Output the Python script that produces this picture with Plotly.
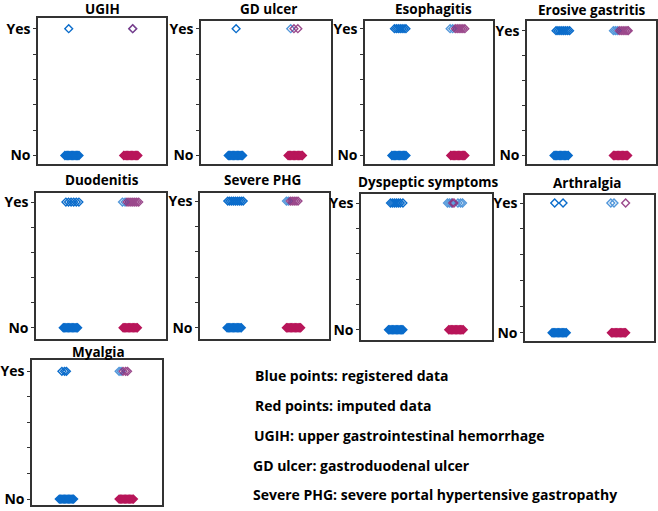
import plotly.graph_objects as go

# ---------------- data ----------------
panel_titles = ["UGIH", "GD ulcer", "Esophagitis", "Erosive gastritis",
                "Duodenitis", "Severe PHG", "Dyspeptic symptoms", "Arthralgia", "Myalgia"]
y_ticktext = ["No", "", "", "", "", "Yes"]
y_tickvals = [0, 0.2, 0.4, 0.6, 0.8, 1]

# x positions (group index + jitter); group 0 = registered, 1 = imputed
reg_yes = [
    [-0.02],
    [0.04],
    [-0.04, -0.01, 0.02, 0.05, 0.08, 0.11, 0.14],
    [-0.05, -0.02, 0.01, 0.04, 0.07, 0.1, 0.13, 0.16],
    [-0.04, 0.0, 0.04, 0.08, 0.12, 0.16],
    [-0.07, -0.04, -0.01, 0.02, 0.05, 0.08, 0.11, 0.14, 0.17],
    [-0.05, -0.02, 0.01, 0.04, 0.07, 0.1, 0.14],
    [-0.04, 0.09],
    [-0.04, 0.0, 0.03],
]
imp_yes_blue = [
    [-0.02],
    [-0.12],
    [-0.17, -0.13],
    [-0.16, -0.13, -0.1],
    [-0.17, -0.13],
    [-0.16, -0.13],
    [-0.18, -0.15, -0.12, -0.02, 0.02, 0.05],
    [-0.17, -0.12],
    [-0.16, -0.13],
]
imp_yes_red = [
    [-0.02],
    [-0.07, -0.01],
    [-0.09, -0.06, -0.03, 0.0, 0.03, 0.06],
    [-0.07, -0.04, -0.01, 0.02, 0.05, 0.07],
    [-0.1, -0.07, -0.04, -0.01, 0.02, 0.05, 0.08],
    [-0.1, -0.07, -0.04, -0.01, 0.02],
    [-0.1, -0.08],
    [0.06],
    [-0.1, -0.06, -0.03],
]
reg_no = [-0.08, -0.06, -0.04, -0.02, 0.0, 0.02, 0.04, 0.06, 0.08, 0.1, 0.12, 0.14]
imp_no = [-0.16, -0.14, -0.12, -0.1, -0.08, -0.06, -0.04, -0.02, 0.0, 0.02, 0.04, 0.06]

notes = ["Blue points: registered data",
         "Red points: imputed data",
         "UGIH: upper gastrointestinal hemorrhage",
         "GD ulcer: gastroduodenal ulcer",
         "Severe PHG: severe portal hypertensive gastropathy"]

# ---------------- layout (pixel geometry) ----------------
W, H = 658, 511
# left, right, top, bottom, yes_y, no_y, title_x, title_y
boxes = [
    (38, 166, 16, 164, 27, 155, 102, 7),
    (201, 331, 19, 164, 27, 155, 268, 7),
    (365, 493, 19, 164, 27, 155, 433, 7),
    (527, 656, 19, 164, 29, 155, 592, 8),
    (36, 166, 193, 340, 202, 329, 102, 180),
    (200, 329, 193, 340, 201, 329, 262, 180),
    (361, 492, 194, 341, 203, 331, 428, 182),
    (525, 654, 195, 342, 203, 334, 587, 183),
    (32, 162, 362, 508, 373, 502, 98, 353),
]
note_pos = [(253, 377), (253, 407), (252, 438), (251, 468), (251, 497)]

BLUE = "#0a6ccb"
RED = "#b8165a"
PURPLE = "#8a2a78"
FONT = "Open Sans"

fig = go.Figure()
layout = dict(width=W, height=H, margin=dict(l=0, r=0, t=0, b=0),
              paper_bgcolor="white", plot_bgcolor="white", showlegend=False)
annotations = []

for i, (l, r, t, b, yy, ny, tx, ty) in enumerate(boxes):
    k = "" if i == 0 else str(i + 1)
    xa, ya = "x" + k, "y" + k
    unit = ny - yy
    ylo = -(b - ny) / unit
    yhi = 1 + (yy - t) / unit

    def add(xs, yv, color, op, sym, size, lw):
        fig.add_trace(go.Scatter(x=xs, y=[yv] * len(xs), mode="markers", xaxis=xa, yaxis=ya,
                                 opacity=op,
                                 marker=dict(symbol=sym, size=size, color=color,
                                             line=dict(color=color, width=lw)),
                                 hoverinfo="skip"))

    add(reg_no, 0, BLUE, 1, "diamond", 6, 1.5)
    add([1 + v for v in imp_no], 0, RED, 1, "diamond", 6, 1.5)
    add(reg_yes[i], 1, BLUE, 1, "diamond-open", 6, 1.4)
    add([1 + v for v in imp_yes_blue[i]], 1, BLUE, 0.7, "diamond-open", 6, 1.4)
    add([1 + v for v in imp_yes_red[i]], 1, PURPLE, 0.85, "diamond-open", 6, 1.4)

    layout["xaxis" + k] = dict(domain=[l / W, r / W], range=[-0.5, 1.5], anchor=ya,
                               showgrid=False, zeroline=False, showticklabels=False,
                               showline=True, mirror=True, linecolor="#333", linewidth=1.5,
                               ticks="", fixedrange=True)
    layout["yaxis" + k] = dict(domain=[1 - b / H, 1 - t / H], range=[ylo, yhi], anchor=xa,
                               tickvals=y_tickvals, ticktext=y_ticktext,
                               tickfont=dict(family=FONT, size=14, color="black", weight="bold"),
                               ticks="outside", ticklen=3, tickcolor="#333", tickwidth=1,
                               showgrid=False, zeroline=False,
                               showline=True, mirror=True, linecolor="#333", linewidth=1.5,
                               fixedrange=True)
    annotations.append(dict(text=panel_titles[i], x=tx / W, y=1 - ty / H, xref="paper", yref="paper",
                            xanchor="center", yanchor="middle", showarrow=False,
                            font=dict(family=FONT, size=13.5, color="black", weight="bold")))

for txt, (nx, ny_) in zip(notes, note_pos):
    annotations.append(dict(text=txt, x=nx / W, y=1 - ny_ / H, xref="paper", yref="paper",
                            xanchor="left", yanchor="middle", showarrow=False,
                            font=dict(family=FONT, size=14, color="black", weight="bold")))

layout["annotations"] = annotations
fig.update_layout(**layout)
fig.write_html("out.html", config={"displayModeBar": False},
               post_script="document.body.style.margin='0';document.body.style.padding='0';"
                           "document.documentElement.style.margin='0';")
